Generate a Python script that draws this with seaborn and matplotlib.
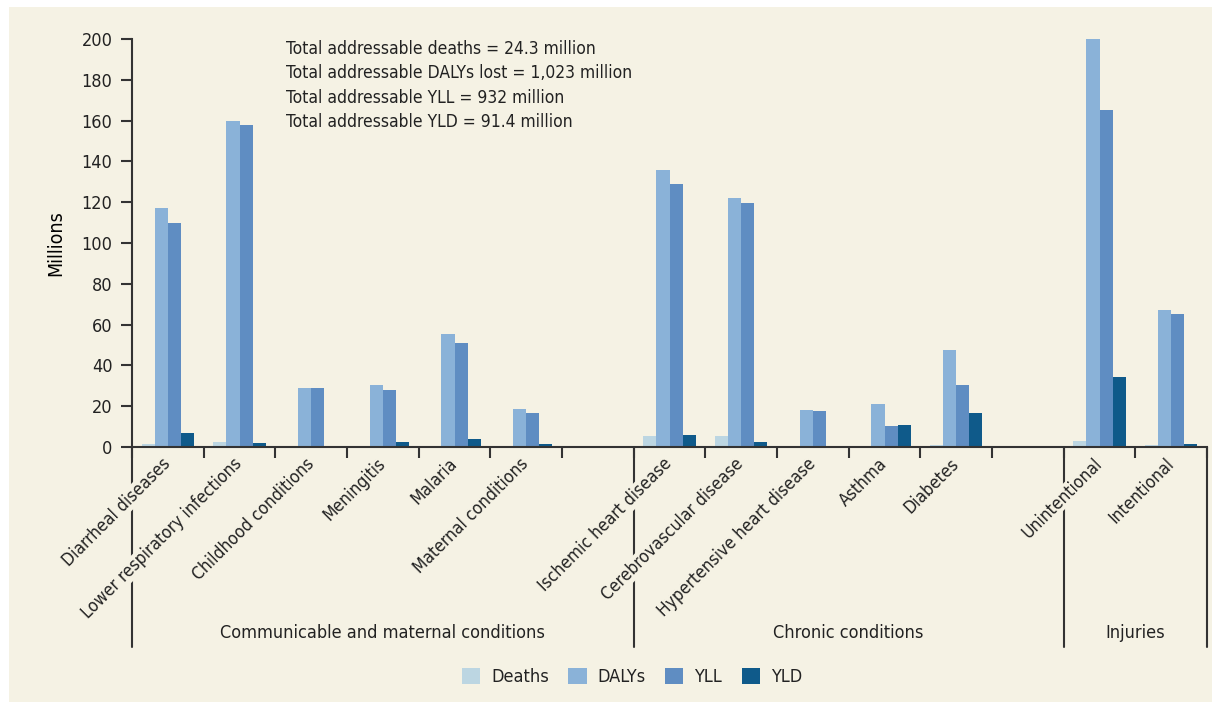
import numpy as np
import pandas as pd
import seaborn as sns
import matplotlib.pyplot as plt
from matplotlib.patches import Rectangle

# values in millions
categories = ["Diarrheal diseases", "Lower respiratory infections", "Childhood conditions",
              "Meningitis", "Malaria", "Maternal conditions",
              "Ischemic heart disease", "Cerebrovascular disease", "Hypertensive heart disease",
              "Asthma", "Diabetes",
              "Unintentional", "Intentional"]
deaths = [1.5, 2.5, 0.5, 0.4, 0.5, 0.5, 5.4, 5.4, 0.5, 0.0, 1.0, 3.0, 1.0]
dalys = [117, 160, 29, 30.5, 55.5, 18.6, 136, 122, 18.2, 21.3, 47.5, 200, 67]
yll = [110, 158, 29, 28, 51, 16.8, 129, 119.5, 17.7, 10.3, 30.4, 165, 65]
yld = [6.9, 2.0, 0.5, 2.5, 4.0, 1.5, 5.9, 2.5, 0.0, 10.8, 16.8, 34.3, 1.5]

series = ["Deaths", "DALYs", "YLL", "YLD"]
colors = ["#bcd6e2", "#8ab2d8", "#5f8dc2", "#0f5a8a"]

# slot order with blank gaps between the groups
order = categories[:6] + [" "] + categories[6:11] + ["  "] + categories[11:]
groups = [("Communicable and maternal conditions", -0.5, 6.5),
          ("Chronic conditions", 6.5, 12.5),
          ("Injuries", 12.5, 14.5)]

notes = ["Total addressable deaths = 24.3 million",
         "Total addressable DALYs lost = 1,023 million",
         "Total addressable YLL = 932 million",
         "Total addressable YLD = 91.4 million"]

df = pd.DataFrame({"cause": categories * 4,
                   "measure": np.repeat(series, len(categories)),
                   "value": deaths + dalys + yll + yld})

bg = "#f5f2e4"
ink = "#333333"
txt = "#222222"
fs = 12.5
sns.set_style("ticks")
plt.rcParams["font.family"] = ["DejaVu Sans"]
plt.rcParams["font.stretch"] = "condensed"
plt.rcParams["font.size"] = fs

fig = plt.figure(figsize=(12.2, 7.02), dpi=100, facecolor="white")
fig.patches.append(Rectangle((9 / 1220, 0), 1203 / 1220, 1 - 7 / 702,
                             transform=fig.transFigure, facecolor=bg,
                             edgecolor="none", zorder=-10))
ax = fig.add_axes([132 / 1220, 1 - 447 / 702, 1075 / 1220, 408 / 702])
ax.set_facecolor(bg)

sns.barplot(data=df, x="cause", y="value", hue="measure", order=order,
            hue_order=series, palette=colors, width=0.73, gap=0,
            saturation=1, linewidth=0, ax=ax, legend=True)

ax.set_xlim(-0.5, 14.5)
ax.set_ylim(0, 200)
ax.set_yticks(range(0, 201, 20))
ax.set_ylabel("Millions", fontsize=14, color="black", labelpad=12)
ax.set_xlabel("")
for s in ["top", "right"]:
    ax.spines[s].set_visible(False)
for s in ["left", "bottom"]:
    ax.spines[s].set_color(ink)
    ax.spines[s].set_linewidth(1.5)
ax.tick_params(axis="y", length=8, width=1.5, color=ink, labelsize=13,
               labelcolor=txt, pad=6)

ax.set_xticks(range(15))
ax.set_xticklabels(order, rotation=45, ha="right", va="center",
                   rotation_mode="anchor", fontsize=fs, color=txt)
for lab in ax.get_xticklabels():
    lab.set_bbox(dict(facecolor=bg, edgecolor="none", pad=0.5))
ax.tick_params(axis="x", which="major", length=0, pad=10)
ax.set_xticks(np.arange(-0.5, 15, 1), minor=True)
ax.tick_params(axis="x", which="minor", length=8, width=1.5, color=ink)

trans = ax.get_xaxis_transform()
for name, x0, x1 in groups:
    ax.text((x0 + x1) / 2, -0.456, name, transform=trans, ha="center",
            va="center", fontsize=13, color=txt)
for x in [-0.5, 6.5, 12.5, 14.5]:
    ax.plot([x, x], [0, -0.49], transform=trans, color=ink, lw=1.5,
            clip_on=False, zorder=0.2)

fig.text(286 / 1220, 1 - 40 / 702, "\n".join(notes), ha="left", va="top",
         fontsize=fs, color=txt, linespacing=1.45)

handles, labels = ax.get_legend_handles_labels()
ax.get_legend().remove()
fig.legend(handles, labels, loc="center", bbox_to_anchor=(632 / 1220, 1 - 677 / 702),
           ncol=4, frameon=False, fontsize=13, handlelength=1.0, handleheight=1.0,
           handletextpad=0.6, columnspacing=1.1, labelcolor=txt)

fig.savefig("out.png", dpi=100, facecolor="white")
